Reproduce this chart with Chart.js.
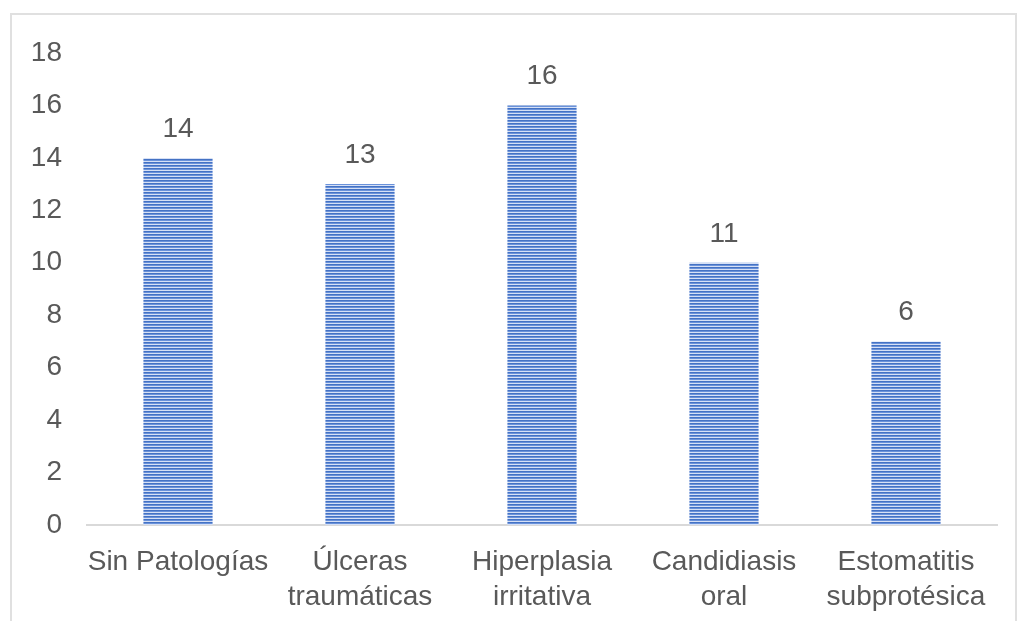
<!DOCTYPE html>
<html>
<head>
<meta charset="utf-8">
<script src="https://cdn.jsdelivr.net/npm/chart.js@4.4.1/dist/chart.umd.min.js"></script>
<style>
  body { margin: 0; background: #fff; overflow: hidden; }
  .frame { position: absolute; left: 10px; top: 13px; width: 1003px; height: 700px; border: 2px solid #e0e0e0; }
  .chartBox { position: absolute; left: 0; top: 0; width: 1017px; height: 621px; }
</style>
</head>
<body>
<div class="frame"></div>
<div class="chartBox"><canvas id="chart" width="1017" height="621"></canvas></div>
<script>
const categories = [
  'Sin Patologías',
  ['Úlceras', 'traumáticas'],
  ['Hiperplasia', 'irritativa'],
  ['Candidiasis', 'oral'],
  ['Estomatitis', 'subprotésica']
];
// bar heights as drawn, and the numbers printed above them (they differ in the source)
const barValues = [14, 13, 16, 10, 7];
const valueLabels = ['14', '13', '16', '11', '6'];
const yTicks = [0, 2, 4, 6, 8, 10, 12, 14, 16, 18];

const textColor = '#595959';
const fontFamily = '"Liberation Sans", Arial, sans-serif';

// horizontal stripe fill like the original
const makeStripes = () => {
  const c = document.createElement('canvas');
  c.width = 4;
  c.height = 3;
  const ctx = c.getContext('2d');
  ctx.fillStyle = '#4472c4';
  ctx.fillRect(0, 0, 4, 1);
  ctx.fillStyle = '#6a92da';
  ctx.fillRect(0, 1, 4, 1);
  ctx.fillStyle = '#d6e0f5';
  ctx.fillRect(0, 2, 4, 1);
  return ctx.createPattern(c, 'repeat');
};

const valueLabelPlugin = {
  id: 'valueLabels',
  afterDatasetsDraw(chart) {
    const ctx = chart.ctx;
    const meta = chart.getDatasetMeta(0);
    ctx.save();
    ctx.font = '28px ' + fontFamily;
    ctx.fillStyle = textColor;
    ctx.textAlign = 'center';
    ctx.textBaseline = 'alphabetic';
    meta.data.forEach((bar, i) => {
      ctx.fillText(valueLabels[i], bar.x, bar.y - 21);
    });
    ctx.restore();
  }
};

new Chart(document.getElementById('chart'), {
  type: 'bar',
  data: {
    labels: categories,
    datasets: [{
      data: barValues,
      backgroundColor: makeStripes(),
      borderWidth: 0,
      barPercentage: 1,
      categoryPercentage: 0.38
    }]
  },
  options: {
    responsive: false,
    animation: false,
    layout: { padding: { top: 53, right: 20, left: 0, bottom: 0 } },
    plugins: {
      legend: { display: false },
      tooltip: { enabled: false }
    },
    scales: {
      x: {
        grid: { display: false, drawTicks: false },
        border: { display: true, color: '#d9d9d9', width: 2 },
        ticks: {
          color: textColor,
          font: { size: 28, family: fontFamily, lineHeight: 1.25 },
          padding: 20,
          maxRotation: 0,
          autoSkip: false
        },
        afterFit: (scale) => { scale.height = 96; }
      },
      y: {
        min: 0,
        max: 18,
        grid: { display: false, drawTicks: false },
        border: { display: false },
        afterBuildTicks: (scale) => { scale.ticks = yTicks.map(v => ({ value: v })); },
        ticks: {
          color: textColor,
          font: { size: 28, family: fontFamily },
          padding: 25
        },
        afterFit: (scale) => { scale.width = 87; }
      }
    }
  },
  plugins: [valueLabelPlugin]
});
</script>
</body>
</html>
